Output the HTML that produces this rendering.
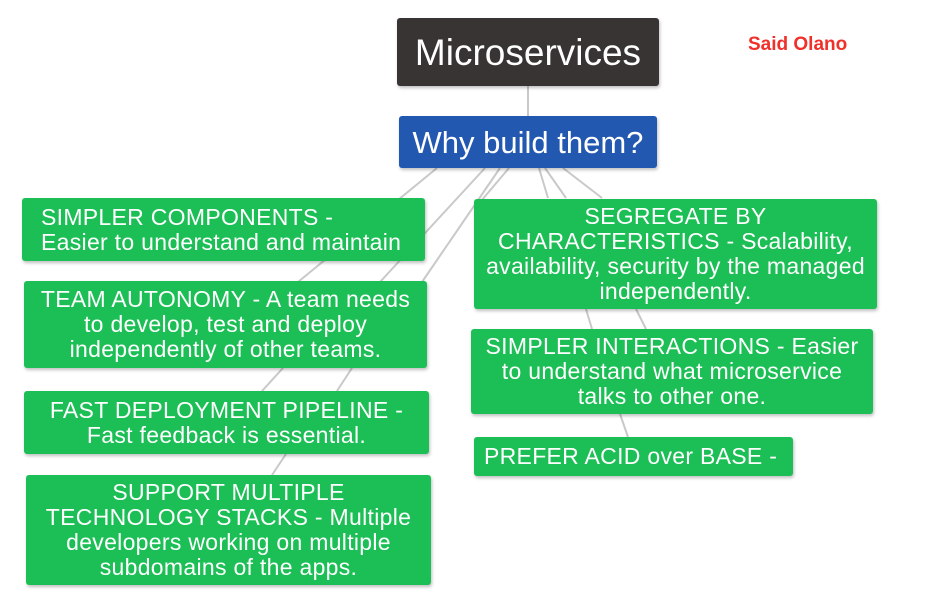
<!DOCTYPE html>
<html><head><meta charset="utf-8"><style>
body{margin:0;width:941px;height:616px;background:#fff;position:relative;overflow:hidden;font-family:"Liberation Sans",Arial,sans-serif}
.b{position:absolute;color:#fff;box-sizing:border-box;border-radius:3px;box-shadow:1px 2px 3px rgba(0,0,0,.25);display:flex;align-items:center;justify-content:center;text-align:center;font-size:23px;letter-spacing:0.3px;line-height:25px;white-space:nowrap}
.g{background:#1cbf55}
svg{position:absolute;left:0;top:0}
</style></head><body>
<svg width="941" height="616"><g stroke="#c9c9c9" stroke-width="2" fill="none">
<line x1="528" y1="86" x2="528" y2="116"/>
<line x1="437" y1="168" x2="298" y2="282"/>
<line x1="485" y1="168" x2="380" y2="282"/>
<line x1="500" y1="168" x2="422" y2="282"/>
<line x1="509" y1="168" x2="476" y2="207"/>
<line x1="539" y1="168" x2="548" y2="198"/>
<line x1="545" y1="168" x2="566" y2="198"/>
<line x1="563" y1="168" x2="602" y2="198"/>
<line x1="283" y1="368" x2="262" y2="391"/>
<line x1="352" y1="368" x2="337" y2="391"/>
<line x1="286" y1="454" x2="272" y2="475"/>
<line x1="586" y1="309" x2="592" y2="329"/>
<line x1="636" y1="309" x2="646" y2="329"/>
<line x1="620" y1="414" x2="628" y2="437"/>
</g></svg>
<div class="b" style="left:397px;top:18px;width:262px;height:68px;background:#383433;font-size:37px;letter-spacing:0">Microservices</div>
<div style="position:absolute;left:748px;top:34px;color:#f0302a;font-weight:bold;font-size:19px">Said Olano</div>
<div class="b" style="left:399px;top:116px;width:258px;height:52px;background:#2258b0;font-size:31px;letter-spacing:0">Why build them?</div>
<div class="b g" style="left:22px;top:198px;width:403px;height:63px;justify-content:flex-start;text-align:left;padding-left:19px">SIMPLER COMPONENTS -<br>Easier to understand and maintain</div>
<div class="b g" style="left:24px;top:281px;width:403px;height:87px">TEAM AUTONOMY - A team needs<br>to develop, test and deploy<br>independently of other teams.</div>
<div class="b g" style="left:24px;top:391px;width:405px;height:63px">FAST DEPLOYMENT PIPELINE -<br>Fast feedback is essential.</div>
<div class="b g" style="left:26px;top:475px;width:405px;height:110px">SUPPORT MULTIPLE<br>TECHNOLOGY STACKS - Multiple<br>developers working on multiple<br>subdomains of the apps.</div>
<div class="b g" style="left:474px;top:199px;width:403px;height:110px">SEGREGATE BY<br>CHARACTERISTICS - Scalability,<br>availability, security by the managed<br>independently.</div>
<div class="b g" style="left:471px;top:329px;width:402px;height:85px">SIMPLER INTERACTIONS - Easier<br>to understand what microservice<br>talks to other one.</div>
<div class="b g" style="left:474px;top:437px;width:319px;height:39px;justify-content:flex-start;padding-left:10px">PREFER ACID over BASE -</div>
</body></html>
